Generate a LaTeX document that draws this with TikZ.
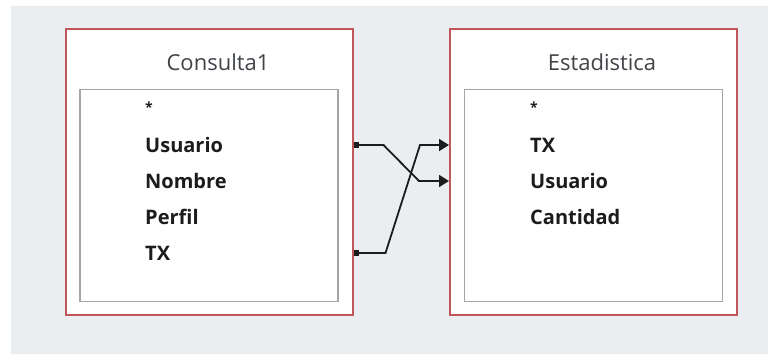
\documentclass[tikz,border=0pt]{standalone}
\usepackage{fontspec}
\setmainfont{Open Sans}
\usetikzlibrary{arrows.meta,calc}
\definecolor{bggray}{HTML}{EBEEF1}
\definecolor{boxred}{HTML}{C0555A}
\definecolor{innergray}{HTML}{A2A6AA}
\definecolor{titlegray}{HTML}{404448}
\definecolor{fieldblack}{HTML}{1C1C1C}
\tikzset{
  outerbox/.style={draw=boxred, line width=2pt, fill=white, minimum width=287pt, minimum height=286pt, inner sep=0pt},
  innerbox/.style={draw=innergray, line width=1.8pt, fill=white, minimum width=258pt, minimum height=212pt, inner sep=0pt},
  titletext/.style={font=\fontsize{22}{26}\selectfont, text=titlegray, inner sep=0pt},
  fieldtext/.style={font=\fontsize{20}{24}\selectfont\bfseries, text=fieldblack, anchor=base west, inner sep=0pt},
  startext/.style={font=\fontsize{14}{16}\selectfont\bfseries, text=fieldblack, anchor=base west, inner sep=0pt},
  conn/.style={draw=fieldblack, line width=1.8pt, {Square[length=5pt,width=5.5pt]}-{Triangle[length=10pt,width=12pt]}}
}
\begin{document}
\begin{tikzpicture}[x=1pt,y=-1pt]
\useasboundingbox (0,0) rectangle (768,354);
\fill[white] (0,0) rectangle (768,354);
\fill[bggray] (11,6) rectangle (768,354);
% boxes
\node[outerbox] (c1) at (209,171.5) {};
\node[innerbox] (i1) at (209,195.5) {};
\node[titletext] (t1) at (218,62) {Consulta1};
\node[outerbox] (c2) at (593.5,171.5) {};
\node[innerbox] (i2) at (593.5,195.5) {};
\node[titletext] (t2) at (602,62) {Estadistica};
% fields left
\node[startext] (l0) at (145,112.5) {*};
\node[fieldtext] (l1) at (145,152.5) {Usuario};
\node[fieldtext] (l2) at (145,188.5) {Nombre};
\node[fieldtext] (l3) at (145,224.5) {Perfil};
\node[fieldtext] (l4) at (145,260.5) {TX};
% fields right
\node[startext] (r0) at (530,112.5) {*};
\node[fieldtext] (r1) at (530,152.5) {TX};
\node[fieldtext] (r2) at (530,188.5) {Usuario};
\node[fieldtext] (r3) at (530,224.5) {Cantidad};
% row coordinates
\coordinate (rowA) at (0,145);
\coordinate (rowB) at (0,181);
\coordinate (rowD) at (0,253);
% connectors
\draw[conn] (c1.east |- rowA) -- ++(30,0) -- ($(c2.west |- rowB)+(-30,0)$) -- (c2.west |- rowB);
\draw[conn] (c1.east |- rowD) -- ++(32,0) -- ($(c2.west |- rowA)+(-29,0)$) -- (c2.west |- rowA);
\end{tikzpicture}
\end{document}
